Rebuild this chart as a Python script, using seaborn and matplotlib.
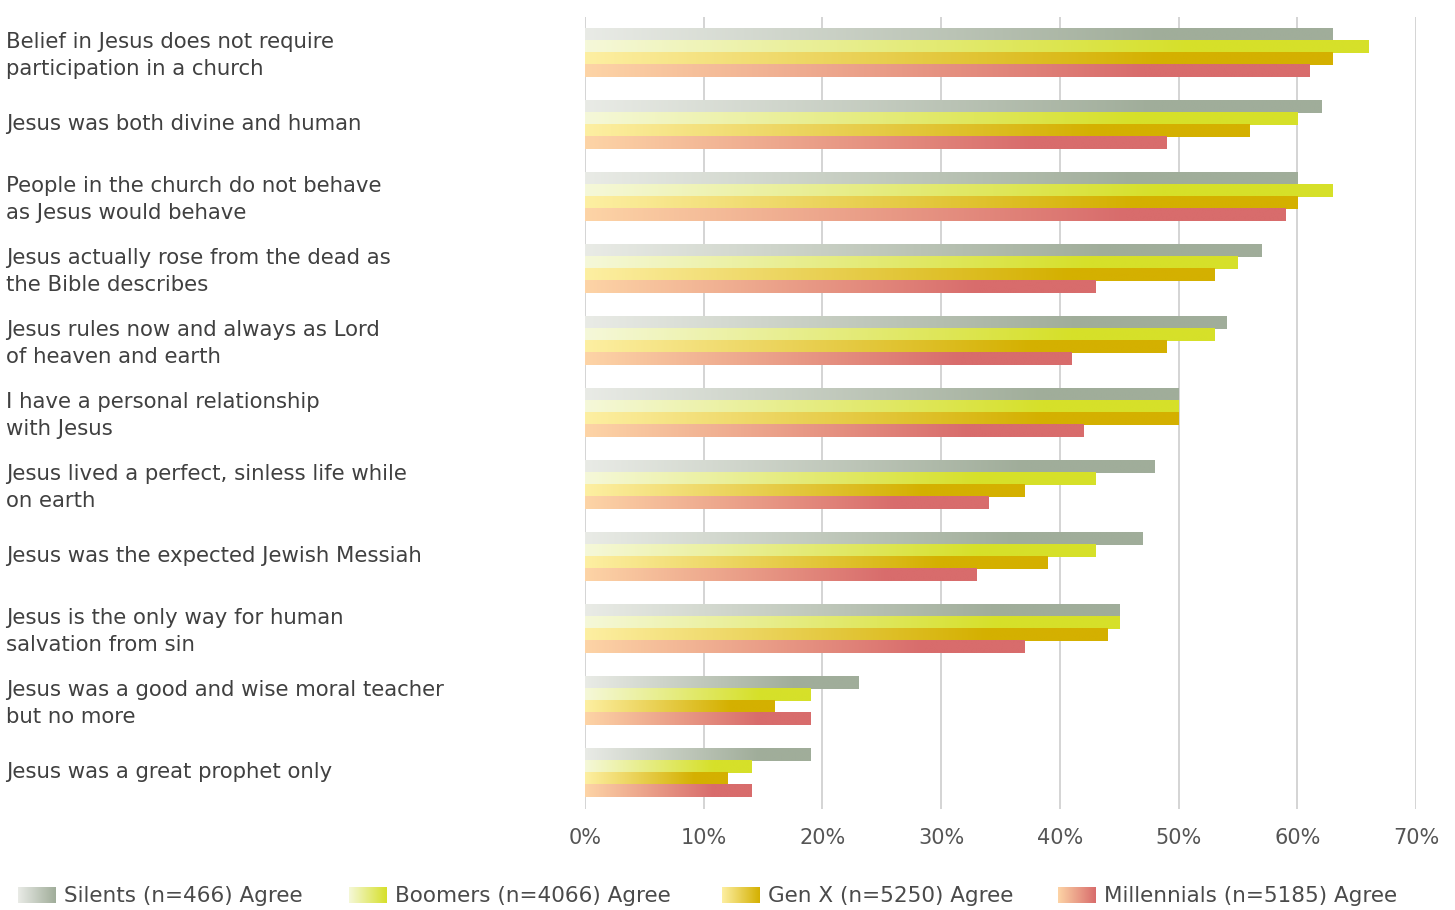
import numpy as np
import pandas as pd
import matplotlib
matplotlib.use("Agg")
import matplotlib.pyplot as plt
from matplotlib.colors import to_rgb
from matplotlib.transforms import ScaledTranslation
import seaborn as sns

statements = [
    "Belief in Jesus does not require\nparticipation in a church",
    "Jesus was both divine and human",
    "People in the church do not behave\nas Jesus would behave",
    "Jesus actually rose from the dead as\nthe Bible describes",
    "Jesus rules now and always as Lord\nof heaven and earth",
    "I have a personal relationship\nwith Jesus",
    "Jesus lived a perfect, sinless life while\non earth",
    "Jesus was the expected Jewish Messiah",
    "Jesus is the only way for human\nsalvation from sin",
    "Jesus was a good and wise moral teacher\nbut no more",
    "Jesus was a great prophet only",
]
groups = [
    "Silents (n=466) Agree",
    "Boomers (n=4066) Agree",
    "Gen X (n=5250) Agree",
    "Millennials (n=5185) Agree",
]
silents = [63, 62, 60, 57, 54, 50, 48, 47, 45, 23, 19]
boomers = [66, 60, 63, 55, 53, 50, 43, 43, 45, 19, 14]
gen_x = [63, 56, 60, 53, 49, 50, 37, 39, 44, 16, 12]
millennials = [61, 49, 59, 43, 41, 42, 34, 33, 37, 19, 14]
x_ticks = [0, 10, 20, 30, 40, 50, 60, 70]

# gradient end points (light -> full) for each group
grad_start = ["#E9EBE6", "#F5F8D9", "#FDEFA2", "#FDD4A6"]
grad_end = ["#A0AD9A", "#D6E02A", "#D4B000", "#D86C6C"]

series = [silents, boomers, gen_x, millennials]
df = pd.DataFrame(
    [(s, g, v) for g, vals in zip(groups, series) for s, v in zip(statements, vals)],
    columns=["statement", "group", "value"],
)

W, H, DPI = 1455, 910, 100
fig = plt.figure(figsize=(W / DPI, H / DPI), dpi=DPI)
sns.set_style("white")
plt.rcParams["font.family"] = ["DejaVu Sans"]

ax = fig.add_axes([585 / W, 1 - 809 / H, (1416 - 585) / W, (809 - 17) / H])
sns.barplot(data=df, x="value", y="statement", hue="group", orient="h",
            order=statements, hue_order=groups, width=0.667, ax=ax,
            errorbar=None, legend=False)


def gradient_row(c0, c1, n=256, frac=0.77):
    a, b = np.array(to_rgb(c0)), np.array(to_rgb(c1))
    t = np.clip(np.linspace(0, 1, n) / frac, 0, 1)[:, None]
    return (a + (b - a) * t)[None, :, :]


# repaint every bar as a horizontal light-to-full gradient
for gi, cont in enumerate(ax.containers):
    img = gradient_row(grad_start[gi], grad_end[gi])
    for p in cont.patches:
        x0, y0 = p.get_x(), p.get_y()
        w, h = p.get_width(), p.get_height()
        p.set_visible(False)
        ax.imshow(img, extent=(x0, x0 + w, y0 + h, y0), aspect="auto",
                  interpolation="bilinear", zorder=2)

ax.set_xlim(0, 70)
ax.set_ylim(len(statements) - 0.5, -0.5)
ax.set_xticks(x_ticks)
ax.set_xticklabels([f"{t}%" for t in x_ticks])
ax.xaxis.grid(True, color="#D4D4D4", linewidth=1.4, zorder=0)
ax.set_axisbelow(True)
for sp in ax.spines.values():
    sp.set_visible(False)
ax.set_xlabel("")
ax.set_ylabel("")
ax.tick_params(axis="x", length=0, pad=14, labelsize=15, labelcolor="#555555")
ax.set_yticks(range(len(statements)))
ax.set_yticklabels(statements, ha="left", fontsize=15.3, color="#404040",
                   linespacing=1.4)
ax.tick_params(axis="y", length=0, pad=(585 - 6) * 72 / DPI)
lift = ScaledTranslation(0, 2.5 / DPI, fig.dpi_scale_trans)
for lbl in ax.get_yticklabels():
    lbl.set_transform(lbl.get_transform() + lift)

# legend with gradient swatches
leg_x = [18, 349, 722, 1058]
for gi, name in enumerate(groups):
    sx = leg_x[gi]
    sax = fig.add_axes([sx / W, 1 - 903 / H, 38 / W, 16 / H])
    sax.imshow(gradient_row(grad_start[gi], grad_end[gi], frac=1.0),
               aspect="auto", interpolation="bilinear")
    sax.axis("off")
    fig.text((sx + 46) / W, 1 - 896 / H, name, fontsize=15.5, color="#4A4A4A",
             va="center", ha="left")

fig.savefig("out.png", dpi=DPI)
